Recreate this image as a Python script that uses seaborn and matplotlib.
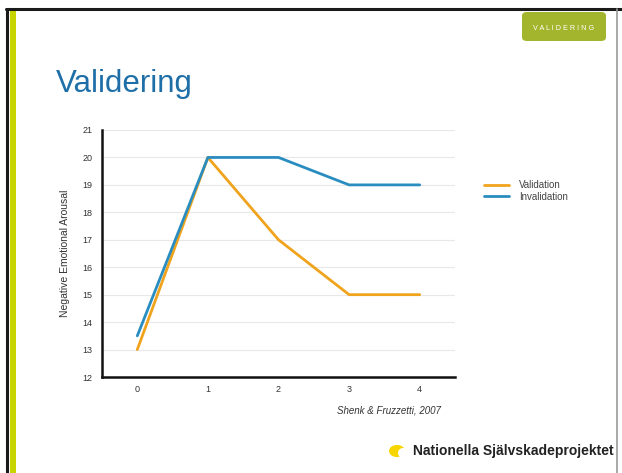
import matplotlib
matplotlib.use("Agg")
import matplotlib.pyplot as plt
import matplotlib.patches as mpatches
import seaborn as sns
import pandas as pd

time_points = [0, 1, 2, 3, 4]
validation = [13, 20, 17, 15, 15]
invalidation = [13.5, 20, 20, 19, 19]
series_names = ["Validation", "Invalidation"]
y_ticks = [12, 13, 14, 15, 16, 17, 18, 19, 20, 21]

df = pd.DataFrame({
    "time": time_points * 2,
    "value": validation + invalidation,
    "series": [series_names[0]] * len(time_points) + [series_names[1]] * len(time_points),
})

sns.set_theme(style="white")
plt.rcParams['font.family'] = ['Liberation Sans', 'DejaVu Sans']

W, H = 622, 473
fig = plt.figure(figsize=(W / 100, H / 100), dpi=100)
fig.patch.set_facecolor("white")

def fx(x):
    return x / W

def fy(y):
    return 1 - y / H

# slide frame
fig.add_artist(plt.Line2D([fx(7), fx(7)], [fy(9), fy(473)], color="#1a1a1a", lw=2.2, transform=fig.transFigure))
fig.add_artist(plt.Line2D([fx(6), fx(622)], [fy(9), fy(9)], color="#1a1a1a", lw=2.2, transform=fig.transFigure))
fig.add_artist(mpatches.Rectangle((fx(10), 0), fx(6), fy(10), color="#c8d400", transform=fig.transFigure, lw=0))
fig.add_artist(plt.Line2D([fx(617), fx(617)], [fy(9), fy(473)], color="#9a9a9a", lw=1.2, transform=fig.transFigure))

# badge
badge = mpatches.FancyBboxPatch((fx(522), fy(41)), fx(84), fy(12) - fy(41),
                                boxstyle="round,pad=0,rounding_size=0.008",
                                color="#a3b52c", transform=fig.transFigure, lw=0)
fig.add_artist(badge)
fig.text(fx(564), fy(28), "V A L I D E R I N G", color="white", fontsize=5.2, ha="center", va="center")

# title
fig.text(fx(56), fy(84), "Validering", color="#1e6fa8", fontsize=22.5, ha="left", va="center")

ax = fig.add_axes([fx(102), fy(377), fx(455) - fx(102), fy(130) - fy(377)])
palette = {"Validation": "#f0a31c", "Invalidation": "#2a8dc0"}
sns.lineplot(data=df, x="time", y="value", hue="series", palette=palette,
             linewidth=2.0, ax=ax, legend=False)

ax.set_xlim(-0.5, 4.5)
ax.set_ylim(12, 21)
ax.set_xticks(time_points)
ax.set_yticks(y_ticks)
ax.tick_params(axis="y", labelsize=6.5, colors="#333333", length=0, pad=7)
ax.tick_params(axis="x", labelsize=6.5, colors="#333333", length=0, pad=6)
for yv in y_ticks[1:]:
    ax.axhline(yv, color="#e8e8e8", lw=0.8, zorder=0)
for s in ["top", "right"]:
    ax.spines[s].set_visible(False)
for s in ["left", "bottom"]:
    ax.spines[s].set_color("#111111")
    ax.spines[s].set_linewidth(1.8)
ax.set_xlabel("")
ax.set_ylabel("Negative Emotional Arousal", fontsize=7.5, color="#333333", labelpad=9)

handles = [plt.Line2D([], [], color=palette[n], lw=2.0) for n in series_names]
fig.legend(handles, series_names, loc="center left", bbox_to_anchor=(fx(475), fy(191)),
           frameon=False, fontsize=7, handlelength=2.6, labelspacing=0.15,
           labelcolor="#444444", handletextpad=1.0)

fig.text(fx(441), fy(410), "Shenk & Fruzzetti, 2007", fontsize=7, style="italic",
         color="#333333", ha="right", va="center")

# logo
fig.add_artist(mpatches.Circle((fx(397), fy(451)), 8 / W, color="#f7d600", transform=fig.transFigure, lw=0))
fig.add_artist(mpatches.Ellipse((fx(403), fy(453)), 10 / W, 10 / H, color="white", transform=fig.transFigure, lw=0))
fig.text(fx(413), fy(451), "Nationella Självskadeprojektet", fontsize=10, fontweight="bold",
         color="#222222", ha="left", va="center")

fig.savefig("out.png", dpi=100)
